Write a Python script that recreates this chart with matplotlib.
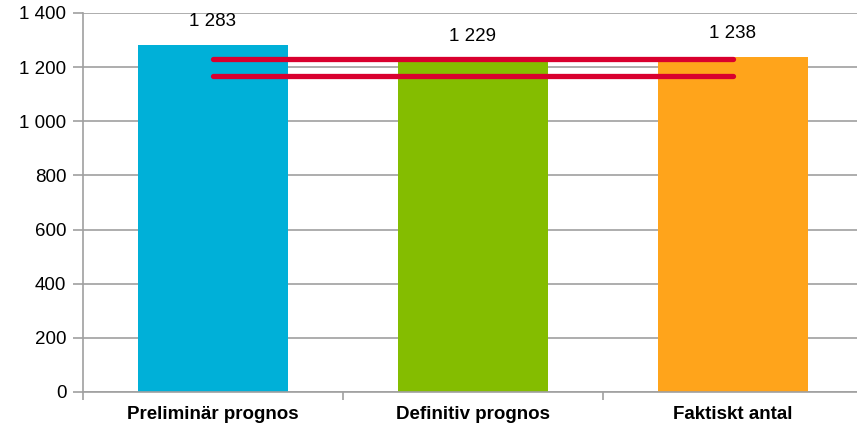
import numpy as np
import matplotlib.pyplot as plt
from matplotlib.ticker import FuncFormatter

plt.rcParams['font.family'] = ['Liberation Sans', 'DejaVu Sans']

categories = ["Preliminär prognos", "Definitiv prognos", "Faktiskt antal"]
values = [1283, 1229, 1238]
colors = ["#00B0D8", "#84BD00", "#FFA41B"]
# red reference lines (upper / lower level)
ref_levels = [1229, 1167]

fig = plt.figure(figsize=(8.57, 4.25), dpi=100)
ax = fig.add_axes([83 / 857, 1 - 392 / 425, 780 / 857, 379 / 425])

x = np.arange(len(categories))
bars = ax.bar(x, values, width=0.575, color=colors, zorder=2)

for xi, v in zip(x, values):
    ax.annotate(f"{v:,}".replace(",", " "), (xi, v), xytext=(0, 16.5),
                textcoords="offset points", ha="center", va="center", fontsize=13.5)

for lvl in ref_levels:
    ax.plot([x[0], x[-1]], [lvl, lvl], color="#D9002E", lw=3.8,
            solid_capstyle="round", zorder=3)

ax.set_xlim(-0.5, 2.5)
ax.set_ylim(0, 1400)
ax.set_yticks(np.arange(0, 1401, 200))
ax.yaxis.set_major_formatter(FuncFormatter(lambda v, p: f"{int(v):,}".replace(",", " ")))
ax.grid(axis="y", color="#A0A0A0", lw=1.2, zorder=0)

ax.set_xticks([-0.5, 0.5, 1.5, 2.5])
ax.set_xticklabels([])
ax.set_xticks(x, minor=True)
ax.set_xticklabels(categories, minor=True, fontweight="bold", fontsize=13.5)
ax.tick_params(axis="x", which="minor", length=0, pad=10)
ax.tick_params(axis="x", which="major", length=6, color="#A0A0A0", width=1.2)
ax.tick_params(axis="y", length=7, color="#A0A0A0", width=1.2, labelsize=13.5, pad=5)

for s in ["top", "right"]:
    ax.spines[s].set_visible(False)
for s in ["left", "bottom"]:
    ax.spines[s].set_color("#A0A0A0")
    ax.spines[s].set_linewidth(1.2)

fig.savefig("out.png", dpi=100)
